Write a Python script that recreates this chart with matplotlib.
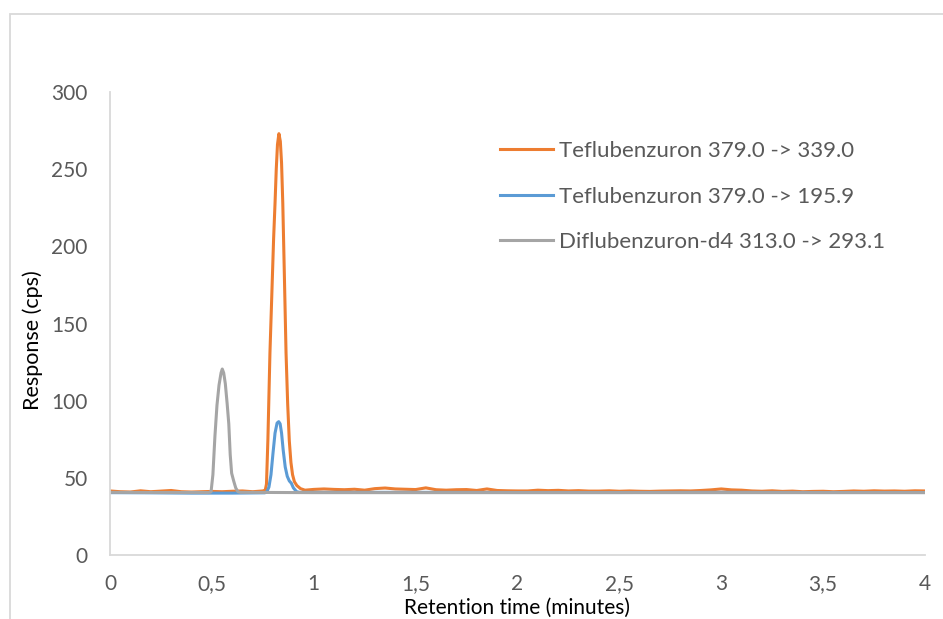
import matplotlib
matplotlib.use("Agg")
import matplotlib.pyplot as plt
from matplotlib.patches import Rectangle

plt.rcParams['font.family'] = ['Lato', 'DejaVu Sans']

# Teflubenzuron 379.0 -> 339.0
orange_t = [0, 0.05, 0.1, 0.15, 0.2, 0.25, 0.3, 0.35, 0.4, 0.45, 0.5, 0.55, 0.6, 0.65, 0.7,
            0.75, 0.762, 0.768, 0.775, 0.785, 0.795, 0.803, 0.81, 0.816, 0.822, 0.829, 0.836,
            0.842, 0.848, 0.856, 0.864, 0.872, 0.88, 0.888, 0.896, 0.905, 0.917, 0.935, 0.957,
            1.0, 1.05, 1.1, 1.15, 1.2, 1.25, 1.3, 1.35, 1.4, 1.45, 1.5, 1.55, 1.6, 1.65, 1.7,
            1.75, 1.8, 1.85, 1.9, 1.95, 2.0, 2.05, 2.1, 2.15, 2.2, 2.25, 2.3, 2.35, 2.4, 2.45,
            2.5, 2.55, 2.6, 2.65, 2.7, 2.75, 2.8, 2.85, 2.9, 2.95, 3.0, 3.05, 3.1, 3.15, 3.2,
            3.25, 3.3, 3.35, 3.4, 3.45, 3.5, 3.55, 3.6, 3.65, 3.7, 3.75, 3.8, 3.85, 3.9, 3.95, 4.0]
orange_v = [41.5, 41.0, 40.8, 41.6, 41.0, 41.4, 41.8, 41.0, 40.8, 41.0, 41.2, 41.0, 41.3, 41.5, 41.0,
            41.5, 42.0, 46.0, 75.0, 131.0, 172.0, 205.0, 228.0, 250.0, 266.0, 273.0, 268.0,
            254.0, 228.0, 180.0, 131.0, 98.0, 74.0, 60.0, 52.0, 47.5, 45.0, 43.0, 42.0,
            42.5, 42.8, 42.5, 42.3, 42.6, 42.0, 43.0, 43.4, 42.8, 42.6, 42.4, 43.5, 42.3, 42.0, 42.3,
            42.4, 41.8, 42.8, 41.8, 41.6, 41.5, 41.5, 42.0, 41.7, 41.9, 41.5, 41.7, 41.4, 41.4, 41.6,
            41.3, 41.5, 41.3, 41.2, 41.4, 41.5, 41.6, 41.5, 41.8, 42.2, 42.8, 42.2, 42.0, 41.5, 41.3,
            41.6, 41.2, 41.4, 41.0, 41.2, 41.3, 41.0, 41.2, 41.5, 41.3, 41.6, 41.4, 41.5, 41.3, 41.6, 41.5]

# Teflubenzuron 379.0 -> 195.9
blue_t = [0, 0.2, 0.4, 0.6, 0.76, 0.77, 0.78, 0.79, 0.80, 0.81, 0.82, 0.828, 0.835, 0.842,
          0.85, 0.86, 0.87, 0.88, 0.89, 0.90, 0.916, 0.93, 1.5, 2.0, 2.5, 3.0, 3.5, 4.0]
blue_v = [40.4, 40.3, 40.1, 40.1, 40.3, 41.0, 44.0, 52.0, 66.0, 79.0, 85.5, 86.4, 85.0, 79.0,
          68.0, 57.0, 51.0, 48.0, 46.5, 43.5, 41.0, 40.6, 40.6, 40.5, 40.5, 40.6, 40.5, 40.5]

# Diflubenzuron-d4 313.0 -> 293.1
gray_t = [0, 0.2, 0.4, 0.48, 0.49, 0.496, 0.505, 0.515, 0.525, 0.535, 0.545, 0.551, 0.558,
          0.566, 0.575, 0.583, 0.59, 0.597, 0.607, 0.617, 0.628, 0.64, 1.0, 2.0, 3.0, 4.0]
gray_v = [40.6, 40.5, 40.5, 40.5, 40.6, 41.0, 52.0, 77.0, 97.0, 110.0, 118.0, 120.5, 118.0,
          111.0, 98.0, 85.0, 65.0, 53.0, 48.0, 43.5, 41.0, 40.6, 40.4, 40.4, 40.4, 40.4]

series_labels = ['Teflubenzuron 379.0 -> 339.0',
                 'Teflubenzuron 379.0 -> 195.9',
                 'Diflubenzuron-d4 313.0 -> 293.1']
series_colors = ['#ED7D31', '#5B9BD5', '#A5A5A5']

x_ticks = [0, 0.5, 1, 1.5, 2, 2.5, 3, 3.5, 4]
x_tick_labels = ['0', '0,5', '1', '1,5', '2', '2,5', '3', '3,5', '4']
y_ticks = [0, 50, 100, 150, 200, 250, 300]

W, H = 943, 619
fig = plt.figure(figsize=(W / 100, H / 100), dpi=100)
ax = fig.add_axes([110 / W, 1 - 555 / H, 815 / W, 463 / H])

for t, v, lab, col in zip([orange_t, blue_t, gray_t], [orange_v, blue_v, gray_v],
                          series_labels, series_colors):
    ax.plot(t, v, color=col, linewidth=2.2, label=lab, solid_joinstyle='round')

ax.set_xlim(0, 4)
ax.set_ylim(0, 300)
ax.set_xticks(x_ticks)
ax.set_xticklabels(x_tick_labels)
ax.set_yticks(y_ticks)
ax.tick_params(axis='both', length=0, labelsize=15, colors='#595959')
ax.tick_params(axis='x', pad=14)
ax.tick_params(axis='y', pad=16)
for s in ['top', 'right']:
    ax.spines[s].set_visible(False)
for s in ['left', 'bottom']:
    ax.spines[s].set_color('#D9D9D9')
    ax.spines[s].set_linewidth(1.3)

ax.legend(loc='upper left', bbox_to_anchor=(500 / W, 1 - 141 / H), bbox_transform=fig.transFigure,
          frameon=False, fontsize=16, handlelength=2.4, handletextpad=0.25,
          labelspacing=1.15, borderpad=0, borderaxespad=0, labelcolor='#595959')

fig.text(33 / W, 1 - 340 / H, 'Response (cps)', rotation=90, ha='center', va='center', fontsize=15.5)
fig.text(517 / W, 1 - 608 / H, 'Retention time (minutes)', ha='center', va='center', fontsize=15)

# outer chart border (cropped at right and bottom)
fig.add_artist(Rectangle((10 / W, -0.2), 1.2, 1.2 - 14 / H, transform=fig.transFigure,
                         fill=False, edgecolor='#D9D9D9', linewidth=1.3))

fig.savefig('out.png', dpi=100)
